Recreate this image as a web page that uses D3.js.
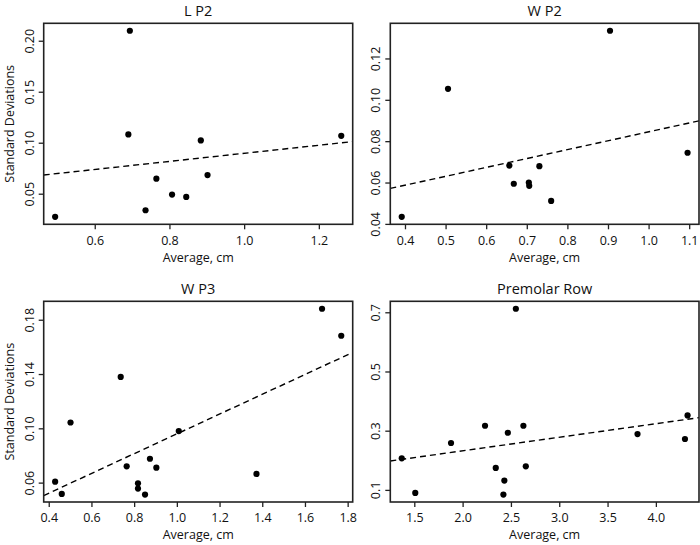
<!DOCTYPE html>
<html>
<head>
<meta charset="utf-8">
<script src="https://cdn.jsdelivr.net/npm/d3@7"></script>
<style>
  html, body { margin: 0; padding: 0; background: #fff; }
  svg { display: block; }
  text { font-family: "Open Sans", "Noto Sans", sans-serif; fill: #111; }
</style>
</head>
<body>
<svg id="chart" width="700" height="545"></svg>
<script>
// ---- Data ----
// Panel: L P2
const lp2X = [0.494, 0.694, 0.690, 0.736, 0.765, 0.807, 0.845, 0.884, 0.902, 1.260];
const lp2Y = [0.0273, 0.2098, 0.1081, 0.0338, 0.0647, 0.0491, 0.0468, 0.1022, 0.0683, 0.1068];
const lp2Fit = [0.0500, 0.0396];          // intercept, slope
const lp2XTicks = [0.6, 0.8, 1.0, 1.2];
const lp2YTicks = [0.05, 0.10, 0.15, 0.20];

// Panel: W P2
const wp2X = [0.392, 0.506, 0.657, 0.668, 0.705, 0.706, 0.731, 0.760, 0.905, 1.096];
const wp2Y = [0.0434, 0.1053, 0.0682, 0.0594, 0.0600, 0.0584, 0.0679, 0.0511, 0.1334, 0.0744];
const wp2Fit = [0.0415, 0.0430];
const wp2XTicks = [0.4, 0.5, 0.6, 0.7, 0.8, 0.9, 1.0, 1.1];
const wp2YTicks = [0.04, 0.06, 0.08, 0.10, 0.12];

// Panel: W P3
const wp3X = [0.430, 0.461, 0.502, 0.737, 0.765, 0.818, 0.818, 0.851, 0.874, 0.904, 1.009, 1.373, 1.680, 1.770];
const wp3Y = [0.0607, 0.0517, 0.1043, 0.1379, 0.0720, 0.0595, 0.0556, 0.0512, 0.0776, 0.0710, 0.0980, 0.0664, 0.1881, 0.1682];
const wp3Fit = [0.0230, 0.0729];
const wp3XTicks = [0.4, 0.6, 0.8, 1.0, 1.2, 1.4, 1.6, 1.8];
const wp3YTicks = [0.06, 0.10, 0.14, 0.18];

// Panel: Premolar Row
const prX = [1.370, 1.510, 1.880, 2.232, 2.343, 2.432, 2.422, 2.468, 2.551, 2.629, 2.654, 3.810, 4.301, 4.328];
const prY = [0.2065, 0.0899, 0.2584, 0.3167, 0.1741, 0.1313, 0.0842, 0.2931, 0.7120, 0.3167, 0.1795, 0.2887, 0.2719, 0.3514];
const prFit = [0.1404, 0.0458];
const prXTicks = [1.5, 2.0, 2.5, 3.0, 3.5, 4.0];
const prYTicks = [0.1, 0.3, 0.5, 0.7];

const titles = ["L P2", "W P2", "W P3", "Premolar Row"];
const xAxisTitle = "Average, cm";
const yAxisTitle = "Standard Deviations";

// ---- Layout ----
const panels = [
  { title: titles[0], xs: lp2X, ys: lp2Y, fit: lp2Fit, xt: lp2XTicks, yt: lp2YTicks, xf: ".1f", yf: ".2f", ylab: true,
    box: [43.7, 23.3, 352.7, 224.3] },
  { title: titles[1], xs: wp2X, ys: wp2Y, fit: wp2Fit, xt: wp2XTicks, yt: wp2YTicks, xf: ".1f", yf: ".2f", ylab: false,
    box: [390.3, 23.3, 699, 224.3] },
  { title: titles[2], xs: wp3X, ys: wp3Y, fit: wp3Fit, xt: wp3XTicks, yt: wp3YTicks, xf: ".1f", yf: ".2f", ylab: true,
    box: [43.7, 301.3, 352.7, 502] },
  { title: titles[3], xs: prX, ys: prY, fit: prFit, xt: prXTicks, yt: prYTicks, xf: ".1f", yf: ".1f", ylab: false,
    box: [390.3, 301.3, 699, 502] }
];

const svg = d3.select("#chart");

function padDomain(v) {
  const [lo, hi] = d3.extent(v);
  const p = (hi - lo) * 0.04;
  return [lo - p, hi + p];
}

panels.forEach((P, i) => {
  const [x0, y0, x1, y1] = P.box;
  const x = d3.scaleLinear().domain(padDomain(P.xs)).range([x0, x1]);
  const y = d3.scaleLinear().domain(padDomain(P.ys)).range([y1, y0]);
  const g = svg.append("g");

  const cid = "clip" + i;
  svg.append("clipPath").attr("id", cid)
    .append("rect").attr("x", x0).attr("y", y0).attr("width", x1 - x0).attr("height", y1 - y0);

  // regression line (dashed)
  const xd = x.domain();
  g.append("line")
    .attr("clip-path", `url(#${cid})`)
    .attr("x1", x(xd[0])).attr("y1", y(P.fit[0] + P.fit[1] * xd[0]))
    .attr("x2", x(xd[1])).attr("y2", y(P.fit[0] + P.fit[1] * xd[1]))
    .attr("stroke", "#000").attr("stroke-width", 1.4).attr("stroke-dasharray", "6,4");

  // points
  g.selectAll("circle.pt").data(P.xs.map((v, k) => [v, P.ys[k]]))
    .enter().append("circle")
    .attr("cx", d => x(d[0])).attr("cy", d => y(d[1]))
    .attr("r", 3.1).attr("fill", "#000");

  // frame
  g.append("rect").attr("x", x0).attr("y", y0).attr("width", x1 - x0).attr("height", y1 - y0)
    .attr("fill", "none").attr("stroke", "#222").attr("stroke-width", 1.6);

  // x axis
  const xa = g.append("g").attr("transform", `translate(0,${y1})`)
    .call(d3.axisBottom(x).tickValues(P.xt).tickFormat(d3.format(P.xf)).tickSize(5).tickPadding(4));
  xa.select(".domain").remove();
  xa.selectAll(".tick line").attr("stroke", "#222").attr("stroke-width", 1.3);
  xa.selectAll(".tick text").attr("font-size", 12.5).attr("font-family", null).attr("fill", "#111")
    .attr("y", 16).attr("dy", "0.35em");

  // y axis
  const ya = g.append("g").attr("transform", `translate(${x0},0)`)
    .call(d3.axisLeft(y).tickValues(P.yt).tickFormat(d3.format(P.yf)).tickSize(5));
  ya.select(".domain").remove();
  ya.selectAll(".tick line").attr("stroke", "#222").attr("stroke-width", 1.3);
  ya.selectAll(".tick text").attr("font-size", 12.5).attr("font-family", null).attr("fill", "#111")
    .attr("text-anchor", "middle").attr("transform", "rotate(-90)")
    .attr("x", 0).attr("y", -14.4).attr("dy", "0.35em");

  // title
  g.append("text").attr("x", (x0 + x1) / 2).attr("y", y0 - 12).attr("dy", "0.35em")
    .attr("text-anchor", "middle").attr("font-size", 14.5).text(P.title);

  // x axis title
  g.append("text").attr("x", (x0 + x1) / 2).attr("y", y1 + 33).attr("dy", "0.35em")
    .attr("text-anchor", "middle").attr("font-size", 12.5).text(xAxisTitle);

  // y axis title
  if (P.ylab) {
    g.append("text")
      .attr("transform", `translate(${x0 - 34.5},${(y0 + y1) / 2}) rotate(-90)`)
      .attr("dy", "0.35em").attr("text-anchor", "middle").attr("font-size", 12.5).text(yAxisTitle);
  }
});
</script>
</body>
</html>
